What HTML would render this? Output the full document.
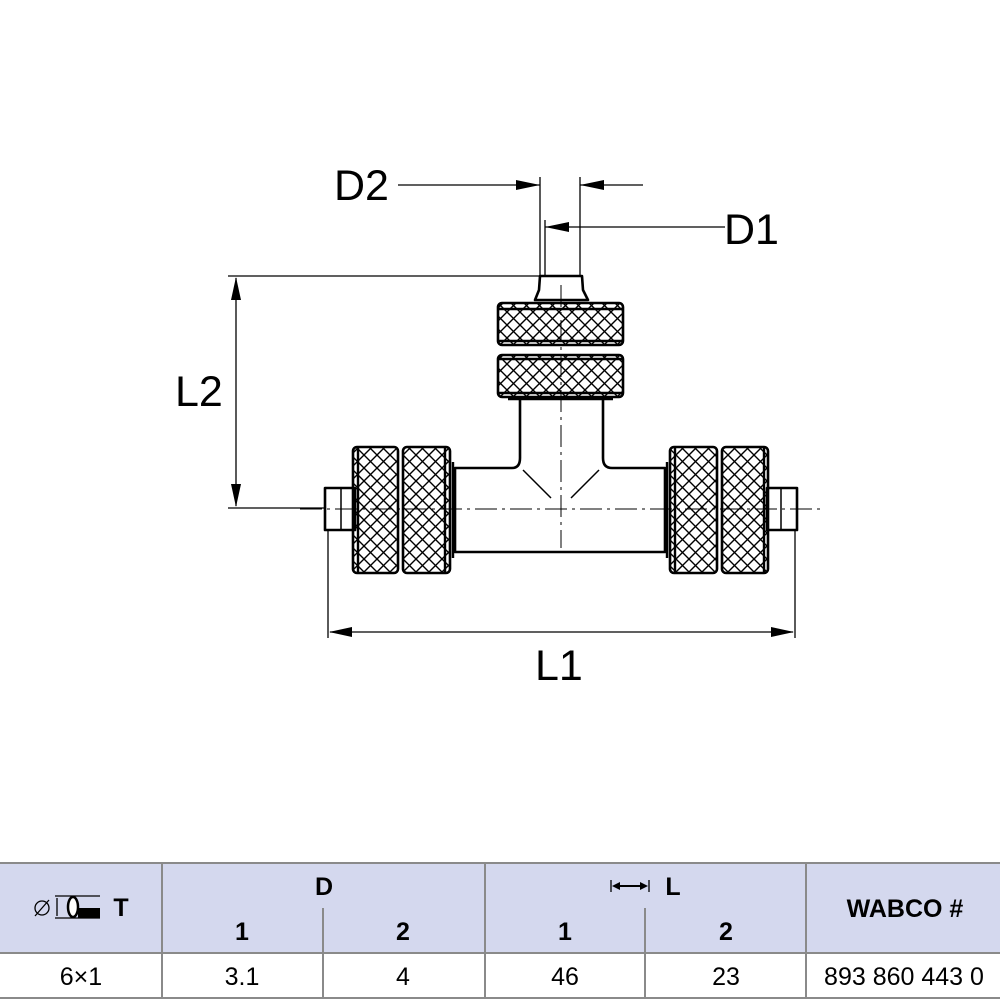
<!DOCTYPE html>
<html><head><meta charset="utf-8"><style>
html,body{margin:0;padding:0;background:#fff;width:1000px;height:1000px;overflow:hidden}
svg{position:absolute;left:0;top:0}
.t{font-family:"Liberation Sans",Arial,sans-serif}
</style></head><body>
<svg width="1000" height="1000" viewBox="0 0 1000 1000" xmlns="http://www.w3.org/2000/svg">
<defs>
<pattern id="k" width="13" height="13" patternUnits="userSpaceOnUse">
<path d="M0 0L13 13M13 0L0 13" stroke="#000" stroke-width="1.4"/>
</pattern>
</defs>
<g fill="none" stroke="#000" stroke-width="1.3">
<line x1="398" y1="185" x2="540" y2="185"/>
<line x1="580" y1="185" x2="643" y2="185"/>
<line x1="540" y1="177" x2="540" y2="300"/>
<line x1="580" y1="177" x2="580" y2="300"/>
<line x1="545" y1="220" x2="545" y2="278"/>
<line x1="545" y1="227" x2="725" y2="227"/>
<line x1="228" y1="276" x2="560" y2="276"/>
<line x1="228" y1="508" x2="330" y2="508"/>
<line x1="236" y1="278" x2="236" y2="506"/>
<line x1="328" y1="530" x2="328" y2="638"/>
<line x1="795" y1="530" x2="795" y2="638"/>
<line x1="330" y1="632" x2="793" y2="632"/>
</g>
<g fill="#000">
<polygon points="540,185 516,180 516,190"/>
<polygon points="580,185 604,180 604,190"/>
<polygon points="545,227 569,222 569,232"/>
<polygon points="236,277 231,300 241,300"/>
<polygon points="236,507 231,484 241,484"/>
<polygon points="329,632 352,627 352,637"/>
<polygon points="794,632 771,627 771,637"/>
</g>
<g stroke="#000" stroke-width="2.6" fill="#fff" stroke-linejoin="round">
<path d="M540 276 L582 276 L583 290 L588 300 L535 300 L539 290 Z"/>
<path d="M455 468 L512 468 Q520 468 520 458 L520 398 L603 398 L603 458 Q603 468 612 468 L665 468 L665 552 L455 552 Z"/>
<rect x="325" y="488" width="30" height="42"/>
<rect x="767" y="488" width="30" height="42"/>
</g>
<g stroke="#000" stroke-width="1.5">
<line x1="341" y1="488" x2="341" y2="530"/>
<line x1="781" y1="488" x2="781" y2="530"/>
<line x1="523" y1="470" x2="551" y2="498"/>
<line x1="599" y1="470" x2="571" y2="498"/>
</g>
<g stroke="#000" stroke-width="2.6" fill="url(#k)">
<rect x="498" y="303" width="125" height="42" rx="4"/>
<rect x="498" y="355" width="125" height="42" rx="4"/>
<rect x="353" y="447" width="45" height="126" rx="4"/>
<rect x="403" y="447" width="47" height="126" rx="4"/>
<rect x="670" y="447" width="47" height="126" rx="4"/>
<rect x="722" y="447" width="46" height="126" rx="4"/>
</g>
<g fill="none" stroke="#000" stroke-width="2.4">
<line x1="498" y1="309" x2="623" y2="309"/><line x1="498" y1="341" x2="623" y2="341"/>
<line x1="498" y1="359" x2="623" y2="359"/><line x1="498" y1="393" x2="623" y2="393"/>
<line x1="358" y1="447" x2="358" y2="573"/><line x1="445" y1="447" x2="445" y2="573"/>
<line x1="675" y1="447" x2="675" y2="573"/><line x1="764" y1="447" x2="764" y2="573"/>
<line x1="453" y1="462" x2="453" y2="558"/><line x1="667" y1="462" x2="667" y2="558"/>
<line x1="508" y1="399" x2="613" y2="399"/>
</g>
<!-- centerlines on top -->
<g fill="none" stroke="#000" stroke-width="1">
<line x1="300" y1="509" x2="820" y2="509" stroke-dasharray="22,5,3,5"/>
<line x1="561" y1="285" x2="561" y2="548" stroke-dasharray="22,5,3,5"/>
</g>
<g class="t" font-size="43" fill="#000">
<text x="334" y="200">D2</text>
<text x="724" y="244">D1</text>
<text x="175" y="406">L2</text>
<text x="535" y="680">L1</text>
</g>
<rect x="0" y="863" width="1000" height="90" fill="#d4d8ee"/>
<g stroke="#8a8a8a" stroke-width="2">
<line x1="0" y1="863" x2="1000" y2="863"/>
<line x1="0" y1="953" x2="1000" y2="953"/>
<line x1="0" y1="998" x2="1000" y2="998"/>
<line x1="162" y1="863" x2="162" y2="998"/>
<line x1="485" y1="863" x2="485" y2="998"/>
<line x1="806" y1="863" x2="806" y2="998"/>
<line x1="323" y1="908" x2="323" y2="998"/>
<line x1="645" y1="908" x2="645" y2="998"/>
</g>
<g class="t" font-size="25" text-anchor="middle" fill="#000">
<text x="324" y="895" font-weight="bold">D</text>
<text x="242" y="940" font-weight="bold">1</text>
<text x="403" y="940" font-weight="bold">2</text>
<text x="565" y="940" font-weight="bold">1</text>
<text x="726" y="940" font-weight="bold">2</text>
<text x="673" y="895" font-weight="bold">L</text>
<text x="905" y="917" font-weight="bold">WABCO #</text>
<text x="121" y="916" font-weight="bold">T</text>
<text x="81" y="985">6×1</text>
<text x="242" y="985">3.1</text>
<text x="403" y="985">4</text>
<text x="565" y="985">46</text>
<text x="726" y="985">23</text>
<text x="904" y="985">893 860 443 0</text>
</g>
<g stroke="#000" stroke-width="1.3" fill="none">
<circle cx="42" cy="908" r="7"/><line x1="35" y1="916" x2="49" y2="900"/>
<line x1="55" y1="896" x2="100" y2="896"/><line x1="55" y1="918" x2="100" y2="918"/>
<line x1="57" y1="898" x2="57" y2="916"/>
<ellipse cx="73" cy="907" rx="5" ry="10" fill="#fff" stroke-width="2.5"/>
<line x1="611" y1="880" x2="611" y2="892"/><line x1="649" y1="880" x2="649" y2="892"/>
<line x1="614" y1="886" x2="646" y2="886" stroke-width="2"/>
</g>
<rect x="78" y="908" width="22" height="10" fill="#000"/>
<polygon points="612,886 620,882 620,890" fill="#000"/>
<polygon points="648,886 640,882 640,890" fill="#000"/>
</svg>
</body></html>
